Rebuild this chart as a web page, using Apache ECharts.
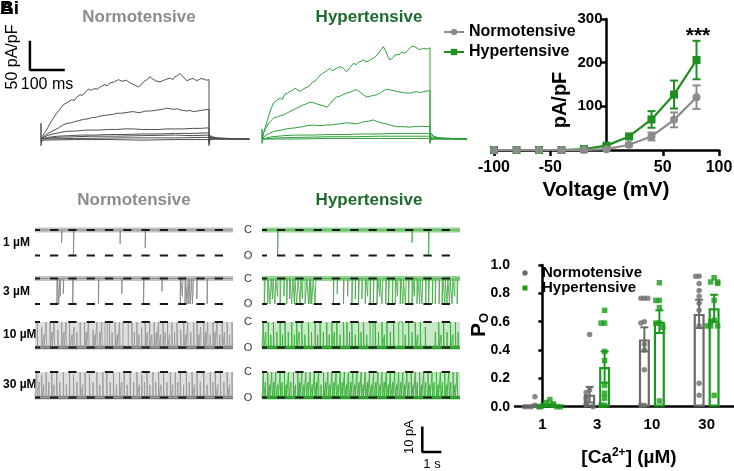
<!DOCTYPE html>
<html><head><meta charset="utf-8">
<script src="https://cdn.jsdelivr.net/npm/echarts@6/dist/echarts.min.js"></script>
<style>html,body{margin:0;padding:0;background:#fff}#c{width:734px;height:471px}</style>
</head><body><div id="c"></div>
<script>
// ---------------- DATA ----------------
// Ai: current-voltage relation
const ivVoltage   = [-100,-80,-60,-40,-20,0,20,40,60,80];
const ivNormo     = [0,0,0,0,0,2,12,31,69,121];
const ivNormoSem  = [1,1,1,1,1,2,4,9,17,27];
const ivHyper     = [0,0,0,0,2,10,31,70,127,206];
const ivHyperSem  = [1,1,1,1,2,3,6,19,32,44];
const ivTicksX    = [-100,-50,50,100];
const ivTicksY    = [100,200,300];

// Bi: open probability
const caConc      = ['1','3','10','30'];
const poNormoMean = [0.005,0.085,0.475,0.655];
const poNormoSem  = [0.008,0.055,0.085,0.10];
const poHyperMean = [0.01,0.28,0.60,0.695];
const poHyperSem  = [0.008,0.11,0.08,0.095];
const poNormoPts  = [[0.07,0.01,0,0,0,0,0],[0.51,0.12,0.10,0.07,0.05,0.02,0.01,0],[0.765,0.765,0.765,0.60,0.59,0.44,0.40,0.26,0.01,0.01],[0.92,0.92,0.87,0.82,0.78,0.73,0.68,0.57,0.165,0.08]];
const poHyperPts  = [[0.05,0.03,0.02,0.01,0.01,0,0,0],[0.68,0.59,0.59,0.39,0.325,0.15,0.095,0.06,0.01,0.01],[0.875,0.75,0.75,0.70,0.59,0.59,0.56,0.04],[0.91,0.88,0.88,0.87,0.75,0.61,0.60,0.57,0.57,0.57,0.08]];

// A: whole-cell current traces [ms, pA/pF]
const wcNormo = [
 [[0,0],[0,28],[0,-12],[3,4],[12,12],[20,20],[27,28],[36,36],[45,45],[55,52],[66,61],[80,66],[91,70],[100,69],[105,74],[116,79],[124,78],[130,83],[141,89],[150,87],[158,90],[168,89],[176,93],[190,97],[198,95],[205,100],[218,102],[230,106],[242,103],[255,105],[262,101],[270,99],[280,96],[290,93],[298,97],[305,102],[315,106],[325,111],[333,107],[340,104],[354,102],[362,104],[370,106],[384,109],[392,106],[398,111],[406,113],[414,117],[420,113],[424,110],[434,104],[445,107],[453,108],[460,105],[468,105],[476,108],[485,107],[492,105],[500,106],[500,-12],[503,6],[510,4],[525,2],[560,1],[620,0]],
 [[0,0],[3,3],[15,8],[30,13],[50,19],[65,25],[77,28],[90,29],[100,31],[114,33],[126,35],[140,36],[150,38],[165,39],[176,41],[190,42],[200,43],[214,44],[226,46],[240,46],[250,47],[262,48],[275,49],[288,47],[300,48],[312,50],[325,50],[338,51],[350,52],[362,53],[374,55],[385,54],[395,53],[404,54],[414,52],[424,51],[433,50],[443,51],[453,49],[465,50],[475,51],[487,52],[500,53],[500,-8],[503,4],[515,2],[540,1],[620,0]],
 [[0,0],[5,3],[18,6],[30,8],[45,10],[60,12],[80,14],[100,14],[120,15],[135,16],[150,16],[175,16],[200,17],[225,17],[250,18],[275,18],[300,17],[325,17],[350,17],[375,18],[400,18],[425,18],[450,19],[475,19],[500,20],[500,-6],[505,3],[520,1],[620,0]],
 [[0,0],[20,3],[50,5],[85,6],[120,7],[160,7],[200,8],[250,8],[300,9],[350,9],[400,10],[450,10],[500,11],[500,-4],[505,2],[530,0],[620,0]],
 [[0,0],[50,3],[100,4],[150,5],[225,5],[300,6],[400,7],[450,6],[500,7],[500,-3],[510,1],[620,0]],
 [[0,0],[100,1],[250,2],[400,2],[500,3],[500,-2],[510,0],[620,0]],
 [[0,0],[0,-5],[10,-2],[100,-1],[200,-1],[300,-2],[400,-1],[500,-1],[500,-4],[520,0],[620,0]]
];
const wcHyper = [
 [[0,0],[0,18],[0,-8],[4,10],[12,25],[19,40],[27,54],[34,64],[44,69],[54,73],[61,71],[68,80],[76,82],[83,85],[91,87],[98,91],[105,88],[113,85],[120,88],[128,91],[136,93],[143,96],[150,101],[158,104],[165,108],[173,114],[180,117],[188,120],[195,123],[202,126],[208,122],[215,124],[224,127],[232,129],[242,126],[252,120],[262,128],[272,135],[280,133],[287,137],[295,139],[302,141],[309,138],[316,139],[324,142],[331,144],[339,148],[346,152],[351,157],[355,160],[361,165],[368,158],[374,148],[381,141],[386,144],[391,146],[396,150],[401,153],[408,151],[416,155],[424,153],[431,156],[436,160],[440,162],[445,165],[450,168],[455,165],[460,163],[466,160],[470,159],[478,161],[485,162],[492,160],[500,163],[500,-8],[503,10],[510,5],[525,2],[560,1],[610,0]],
 [[0,0],[4,10],[12,20],[20,28],[27,33],[34,37],[42,39],[50,40],[57,42],[64,43],[73,46],[83,49],[93,52],[103,55],[113,58],[123,61],[133,63],[143,66],[150,65],[158,64],[165,62],[173,61],[183,59],[193,57],[200,61],[207,66],[214,71],[222,75],[230,76],[237,78],[245,80],[252,82],[260,83],[267,85],[275,87],[282,88],[289,85],[296,82],[304,78],[311,75],[318,76],[326,77],[334,78],[341,79],[349,81],[356,84],[364,87],[371,89],[378,88],[386,87],[394,86],[401,85],[410,84],[420,83],[430,82],[440,82],[448,83],[455,84],[463,84],[470,83],[478,84],[485,85],[492,86],[500,86],[500,-6],[505,4],[520,2],[610,0]],
 [[0,0],[10,6],[22,10],[34,13],[47,15],[60,16],[72,18],[83,19],[100,20],[120,22],[137,24],[153,25],[167,24],[180,24],[190,25],[202,25],[216,26],[230,27],[241,28],[252,29],[267,28],[282,27],[293,29],[305,31],[318,32],[331,34],[340,32],[350,30],[360,28],[371,27],[386,24],[401,22],[413,22],[425,22],[438,21],[450,22],[463,22],[475,23],[488,22],[500,23],[500,-4],[503,10],[512,4],[530,1],[610,0]],
 [[0,0],[30,4],[65,6],[100,7],[150,7],[200,8],[250,8],[300,9],[350,9],[400,10],[450,10],[500,10],[500,-3],[510,1],[610,0]],
 [[0,0],[50,2],[120,3],[200,4],[275,4],[350,5],[425,5],[500,5],[500,-2],[510,0],[610,0]],
 [[0,0],[100,0],[200,1],[350,1],[500,1],[510,0],[610,0]]
];
const wcScaleBar = {pApF: 50, ms: 100};

// B: single-channel recordings, events [time s, duration s, fraction of unitary amplitude]
const scRowLabels = ['1 µM','3 µM','10 µM','30 µM'];
const scClosed = 0, scOpen = -10;       // pA
const scEnd = 10.4;                      // s
const scScaleBar = {pA: 10, s: 1};
const scN1 = [[1.40,0.02,0.5],[2.02,0.03,1],[4.47,0.02,0.55],[5.79,0.02,0.7]];
const scN3 = [[1.15,0.04,1],[1.25,0.05,1],[1.33,0.02,0.7],[1.49,0.02,0.6],[1.98,0.03,1],[3.33,0.03,1],[4.56,0.02,0.6],[5.70,0.03,1],[6.67,0.02,0.5],[7.63,0.03,1],[7.74,0.03,0.7],[7.88,0.04,1],[7.98,0.07,1],[8.08,0.05,1],[8.16,0.08,1],[8.27,0.06,1],[8.50,0.02,0.8],[9.04,0.03,1]];
const scN10 = [[0.12,0.02,1],[0.35,0.02,0.8],[0.47,0.01,0.5],[0.58,0.03,1],[0.79,0.02,1],[0.9,0.01,0.6],[1.0,0.03,1],[1.2,0.02,0.7],[1.40,0.03,1],[1.52,0.01,0.6],[1.63,0.02,1],[1.81,0.04,1],[1.95,0.01,0.5],[2.05,0.02,0.8],[2.2,0.01,0.6],[2.37,0.03,1],[2.6,0.02,1],[2.7,0.01,0.6],[2.81,0.03,1],[3.05,0.02,0.7],[3.15,0.01,0.5],[3.25,0.03,1],[3.4,0.01,0.6],[3.51,0.02,1],[3.68,0.12,1],[3.91,0.02,1],[4.05,0.01,0.6],[4.21,0.03,1],[4.33,0.01,0.5],[4.44,0.02,1],[4.62,0.28,1],[5.09,0.02,1],[5.22,0.01,0.6],[5.35,0.03,1],[5.47,0.01,0.5],[5.6,0.02,0.8],[5.79,0.03,1],[5.9,0.01,0.6],[6.02,0.02,1],[6.14,0.01,0.5],[6.26,0.03,1],[6.38,0.01,0.6],[6.49,0.02,1],[6.6,0.01,0.5],[6.72,0.03,1],[6.84,0.01,0.6],[6.96,0.02,1],[7.07,0.01,0.5],[7.19,0.03,1],[7.33,0.01,0.6],[7.46,0.02,1],[7.65,0.02,0.7],[7.81,0.03,1],[7.92,0.01,0.5],[8.02,0.02,1],[8.18,0.01,0.6],[8.33,0.03,1],[8.51,0.02,1],[8.6,0.01,0.5],[8.7,0.02,0.8],[8.86,0.03,1],[8.96,0.01,0.6],[9.07,0.02,1],[9.2,0.01,0.5],[9.35,0.03,1],[9.45,0.01,0.6],[9.56,0.02,1],[9.7,0.01,0.5],[9.83,0.03,1],[9.95,0.01,0.6],[10.09,0.02,1],[10.22,0.01,0.5],[10.35,0.03,1]];
const scN30 = [[0.09,0.03,1],[0.22,0.01,0.6],[0.35,0.02,0.9],[0.46,0.01,0.5],[0.58,0.03,1],[0.72,0.01,0.6],[0.88,0.02,1],[1.0,0.01,0.5],[1.14,0.03,1],[1.3,0.01,0.6],[1.49,0.02,1],[1.65,0.01,0.5],[1.81,0.03,1],[2.02,0.02,0.9],[2.2,0.01,0.6],[2.37,0.03,1],[2.5,0.01,0.5],[2.63,0.02,1],[2.86,0.03,0.9],[3.05,0.01,0.6],[3.25,0.02,1],[3.4,0.01,0.5],[3.56,0.03,1],[3.77,0.02,1],[3.95,0.01,0.6],[4.12,0.03,1],[4.28,0.01,0.5],[4.44,0.02,1],[4.56,0.01,0.6],[4.68,0.03,1],[4.84,0.01,0.5],[5.0,0.02,1],[5.18,0.01,0.6],[5.35,0.03,1],[5.48,0.01,0.5],[5.61,0.02,0.9],[5.75,0.01,0.6],[5.88,0.03,1],[6.03,0.01,0.5],[6.19,0.02,1],[6.34,0.01,0.6],[6.49,0.03,1],[6.62,0.01,0.5],[6.75,0.02,1],[6.93,0.01,0.6],[7.11,0.03,1],[7.24,0.01,0.5],[7.37,0.02,1],[7.5,0.01,0.6],[7.63,0.03,1],[7.8,0.01,0.5],[7.95,0.02,1],[8.1,0.01,0.6],[8.25,0.03,1],[8.38,0.01,0.5],[8.51,0.02,1],[8.68,0.01,0.6],[8.86,0.03,1],[9.04,0.01,0.5],[9.21,0.02,1],[9.34,0.01,0.6],[9.47,0.03,1],[9.6,0.01,0.5],[9.74,0.02,1],[9.92,0.01,0.6],[10.09,0.03,1],[10.22,0.01,0.5],[10.35,0.02,1]];
const scH1 = [[0.82,0.03,1],[7.88,0.02,0.5],[8.75,0.03,1]];
const scH3 = [[0.12,0.05,1],[0.30,0.03,1],[0.42,0.06,1],[0.55,0.03,0.8],[0.68,0.04,1],[0.82,0.02,0.7],[0.95,0.05,1],[1.15,0.03,0.7],[1.30,0.04,1],[1.45,0.02,0.8],[1.56,0.06,1],[1.70,0.03,1],[1.82,0.08,1],[2.0,0.05,1],[2.12,0.03,0.8],[2.26,0.10,1],[2.44,0.06,1],[2.52,0.04,1],[2.61,0.08,1],[2.79,0.04,1],[3.75,0.03,1],[3.95,0.02,0.6],[4.28,0.03,1],[4.5,0.02,0.7],[4.72,0.04,1],[4.9,0.02,0.8],[5.07,0.04,1],[5.25,0.02,0.8],[5.42,0.05,1],[5.55,0.02,0.7],[5.68,0.03,1],[5.85,0.03,1],[6.04,0.04,1],[6.18,0.02,0.7],[6.30,0.05,1],[6.50,0.03,1],[6.65,0.04,1],[6.85,0.03,1],[7.0,0.05,1],[7.12,0.02,0.7],[7.26,0.04,1],[7.40,0.03,1],[7.53,0.05,1],[7.70,0.03,1],[7.88,0.04,1],[8.0,0.02,0.7],[8.14,0.05,1],[8.28,0.03,1],[8.40,0.04,1],[8.60,0.03,1],[8.75,0.05,1],[8.95,0.03,1],[9.10,0.04,1],[9.30,0.03,1],[9.46,0.05,1],[9.60,0.03,1],[9.72,0.04,1],[9.85,0.03,1],[9.98,0.05,1],[10.12,0.02,0.7],[10.25,0.04,1]];
const scH10 = [[0.07,0.03,1],[0.2,0.01,0.6],[0.33,0.02,1],[0.46,0.01,0.5],[0.6,0.03,1],[0.78,0.01,0.6],[0.95,0.02,1],[1.08,0.01,0.5],[1.21,0.03,1],[1.38,0.01,0.6],[1.56,0.02,1],[1.7,0.01,0.5],[1.82,0.03,1],[1.95,0.01,0.6],[2.09,0.02,1],[2.25,0.01,0.5],[2.44,0.03,1],[2.6,0.01,0.6],[2.79,0.02,1],[2.92,0.01,0.5],[3.05,0.03,1],[3.22,0.01,0.6],[3.40,0.02,1],[3.53,0.01,0.5],[3.67,0.03,1],[3.8,0.01,0.6],[3.93,0.02,1],[4.1,0.01,0.5],[4.28,0.03,1],[4.46,0.02,1],[4.6,0.01,0.6],[4.72,0.03,1],[4.9,0.01,0.5],[5.07,0.02,1],[5.2,0.01,0.6],[5.33,0.03,1],[5.5,0.01,0.5],[5.68,0.15,1],[5.95,0.02,1],[6.12,0.01,0.6],[6.30,0.03,1],[6.43,0.01,0.5],[6.56,0.02,1],[6.74,0.01,0.6],[6.91,0.03,1],[7.18,0.22,1],[7.52,0.01,0.5],[7.70,0.02,1],[7.88,0.01,0.6],[8.05,0.03,1],[8.18,0.01,0.5],[8.32,0.02,1],[8.58,0.02,0.8],[9.10,0.01,0.6],[9.28,0.03,1],[9.41,0.01,0.5],[9.54,0.02,1],[9.72,0.01,0.6],[9.90,0.03,1],[10.03,0.01,0.5],[10.16,0.02,1],[10.3,0.01,0.6]];
const scH30 = [[0.07,0.03,1],[0.18,0.01,0.6],[0.30,0.02,1],[0.40,0.01,0.5],[0.51,0.03,1],[0.62,0.01,0.6],[0.72,0.02,1],[0.84,0.01,0.5],[0.95,0.03,1],[1.06,0.01,0.6],[1.18,0.02,1],[1.28,0.01,0.5],[1.39,0.03,1],[1.52,0.01,0.6],[1.65,0.02,1],[1.76,0.01,0.5],[1.88,0.03,1],[1.98,0.01,0.6],[2.09,0.02,1],[2.2,0.01,0.5],[2.30,0.03,1],[2.42,0.01,0.6],[2.53,0.02,1],[2.64,0.01,0.5],[2.75,0.03,1],[2.86,0.01,0.6],[2.97,0.02,1],[3.1,0.01,0.5],[3.23,0.03,1],[3.35,0.01,0.6],[3.46,0.02,1],[3.56,0.01,0.5],[3.67,0.03,1],[3.78,0.01,0.6],[3.89,0.02,1],[4.0,0.01,0.5],[4.11,0.03,1],[4.22,0.01,0.6],[4.33,0.02,1],[4.44,0.01,0.5],[4.54,0.03,1],[4.66,0.01,0.6],[4.77,0.02,1],[4.88,0.01,0.5],[4.98,0.03,1],[5.1,0.01,0.6],[5.21,0.02,1],[5.32,0.01,0.5],[5.42,0.03,1],[5.54,0.01,0.6],[5.65,0.02,1],[5.76,0.01,0.5],[5.86,0.03,1],[5.98,0.01,0.6],[6.09,0.02,1],[6.2,0.01,0.5],[6.30,0.03,1],[6.42,0.01,0.6],[6.53,0.02,1],[6.64,0.01,0.5],[6.74,0.03,1],[6.86,0.01,0.6],[6.97,0.02,1],[7.08,0.01,0.5],[7.18,0.03,1],[7.3,0.01,0.6],[7.40,0.02,1],[7.5,0.01,0.5],[7.61,0.03,1],[7.72,0.01,0.6],[7.84,0.02,1],[7.94,0.01,0.5],[8.05,0.03,1],[8.16,0.01,0.6],[8.28,0.02,1],[8.38,0.01,0.5],[8.49,0.03,1],[8.6,0.01,0.6],[8.72,0.02,1],[8.82,0.01,0.5],[8.93,0.03,1],[9.04,0.01,0.6],[9.16,0.02,1],[9.26,0.01,0.5],[9.37,0.03,1],[9.48,0.01,0.6],[9.60,0.02,1],[9.7,0.01,0.5],[9.81,0.03,1],[9.92,0.01,0.6],[10.04,0.02,1],[10.14,0.01,0.5],[10.25,0.03,1]];
const scNormo = [scN1, scN3, scN10, scN30];
const scHyper = [scH1, scH3, scH10, scH30];

// ---------------- STYLE / LAYOUT ----------------
const FONT = '"Liberation Sans", Arial, Helvetica, sans-serif';
const C_GRAY = '#8c8c8c', C_GREEN = '#1f8f22', C_DKGREEN = '#1e6b2e';
const BAR_GRAY = '#6b6b6b', BAR_GREEN = '#1a9a1a';
const scRowY = [230, 278.5, 322, 372];   // pixel y of closed level per row
const scPxPerPA = 2.55, scLeftN = 35, scLeftH = 262, scWidth = 198;
const wcPxPerMs = 0.336, wcPxPerPApF = 0.56, wcBaseY = 139;
const barBandPx = 219 / 4;
const ivGridLeft = 494, ivGridWidth = 225;

const grids = [], xAxes = [], yAxes = [], series = [];
const hiddenAxis = (extra) => Object.assign({show:false, splitLine:{show:false}}, extra);

// grid 0: IV
grids.push({left:ivGridLeft, top:19, width:ivGridWidth, height:131});
const axLine = {lineStyle:{color:'#000', width:2.5}};
xAxes.push({gridIndex:0, type:'value', min:-100, max:100, interval:50,
  axisLine:Object.assign({onZero:false}, axLine),
  axisTick:{show:true, length:6, lineStyle:{color:'#000', width:2.5}, customValues:ivTicksX},
  axisLabel:{customValues:ivTicksX, fontFamily:FONT, fontWeight:'bold', fontSize:16, color:'#000', margin:10},
  splitLine:{show:false}});
// y axis drawn at V = 0 (middle of grid) via offset
yAxes.push({gridIndex:0, type:'value', min:0, max:300, interval:100, position:'left',
  offset: -ivGridWidth * (0 - (-100)) / 200,
  axisLine:Object.assign({show:true, onZero:false}, axLine),
  axisTick:{show:true, length:6, lineStyle:{color:'#000', width:2.5}, customValues:ivTicksY},
  axisLabel:{customValues:ivTicksY, fontFamily:FONT, fontWeight:'bold', fontSize:15, color:'#000', margin:4},
  splitLine:{show:false}});

// grid 1: Po bar chart
grids.push({left:515, top:265, width:219, height:141.7});
xAxes.push({gridIndex:1, type:'category', data:caConc,
  axisLine:axLine, axisTick:{alignWithLabel:true, length:6, lineStyle:{color:'#000', width:2.5}},
  axisLabel:{fontFamily:FONT, fontWeight:'bold', fontSize:15, color:'#000', margin:11}});
xAxes.push({gridIndex:1, type:'value', min:-0.5, max:3.5, show:false, splitLine:{show:false}});
yAxes.push({gridIndex:1, type:'value', min:0, max:1, interval:0.2,
  axisLine:Object.assign({show:true}, axLine),
  axisTick:{show:true, length:4, lineStyle:{color:'#000', width:2.5}},
  axisLabel:{formatter:v=>v.toFixed(1), fontFamily:FONT, fontWeight:'bold', fontSize:14, color:'#000', margin:5},
  splitLine:{show:false}});

// grids 2,3: whole-cell traces
const wcMin = -35, wcMax = 620, wcYMin = -20, wcYMax = 180;
[41, 262].forEach(x0 => {
  grids.push({left:x0 + wcMin*wcPxPerMs, top:wcBaseY - wcYMax*wcPxPerPApF,
    width:(wcMax-wcMin)*wcPxPerMs, height:(wcYMax-wcYMin)*wcPxPerPApF});
  const g = grids.length-1;
  xAxes.push(hiddenAxis({gridIndex:g, type:'value', min:wcMin, max:wcMax}));
  yAxes.push(hiddenAxis({gridIndex:g, type:'value', min:wcYMin, max:wcYMax}));
});
// grids 4..11: single channel rows
const scYMin = -14, scYMax = 4;
[scLeftN, scLeftH].forEach(x0 => {
  scRowY.forEach(yC => {
    grids.push({left:x0, top:yC - scYMax*scPxPerPA, width:scWidth, height:(scYMax-scYMin)*scPxPerPA});
    const g = grids.length-1;
    xAxes.push(hiddenAxis({gridIndex:g, type:'value', min:0, max:scEnd}));
    yAxes.push(hiddenAxis({gridIndex:g, type:'value', min:scYMin, max:scYMax}));
  });
});
grids.forEach(g => { g.outerBoundsMode = 'none'; g.containLabel = false; });

// ---- IV series ----
function errRender(color, cap, offPx){
  return function(params, api){
    const x = api.value(0), y = api.value(1), e = api.value(2);
    const t = api.coord([x, y+e]), b = api.coord([x, Math.max(y-e, 0)]);
    const o = offPx || 0, st = {stroke:color, lineWidth:2};
    return {type:'group', children:[
      {type:'line', shape:{x1:t[0]+o, y1:t[1], x2:b[0]+o, y2:b[1]}, style:st},
      {type:'line', shape:{x1:t[0]+o-cap, y1:t[1], x2:t[0]+o+cap, y2:t[1]}, style:st},
      {type:'line', shape:{x1:b[0]+o-cap, y1:b[1], x2:b[0]+o+cap, y2:b[1]}, style:st}
    ]};
  };
}
series.push({type:'custom', xAxisIndex:0, yAxisIndex:0, renderItem:errRender(C_GREEN, 4),
  data:ivVoltage.map((v,i)=>[v, ivHyper[i], ivHyperSem[i]]), z:3, silent:true});
series.push({type:'custom', xAxisIndex:0, yAxisIndex:0, renderItem:errRender(C_GRAY, 4),
  data:ivVoltage.map((v,i)=>[v, ivNormo[i], ivNormoSem[i]]), z:3, silent:true});
series.push({name:'Hypertensive', type:'line', xAxisIndex:0, yAxisIndex:0,
  data:ivVoltage.map((v,i)=>[v, ivHyper[i]]), symbol:'rect', symbolSize:8,
  itemStyle:{color:C_GREEN}, lineStyle:{color:C_GREEN, width:2.2}, z:4});
series.push({name:'Normotensive', type:'line', xAxisIndex:0, yAxisIndex:0,
  data:ivVoltage.map((v,i)=>[v, ivNormo[i]]), symbol:'circle', symbolSize:8,
  itemStyle:{color:C_GRAY}, lineStyle:{color:C_GRAY, width:2.2}, z:5});

// ---- Po bars ----
series.push({type:'bar', xAxisIndex:1, yAxisIndex:1, data:poNormoMean, barWidth:11, barGap:'36%',
  itemStyle:{color:'rgba(255,255,255,0)', borderColor:BAR_GRAY, borderWidth:2.2}, z:2});
series.push({type:'bar', xAxisIndex:1, yAxisIndex:1, data:poHyperMean, barWidth:11, barGap:'36%',
  itemStyle:{color:'rgba(255,255,255,0)', borderColor:BAR_GREEN, borderWidth:2.2}, z:2});
series.push({type:'custom', xAxisIndex:1, yAxisIndex:1, renderItem:errRender(BAR_GRAY, 4, -7.5),
  data:poNormoMean.map((m,i)=>[i, m, poNormoSem[i]]), z:3, silent:true});
series.push({type:'custom', xAxisIndex:1, yAxisIndex:1, renderItem:errRender(BAR_GREEN, 4, 7.5),
  data:poHyperMean.map((m,i)=>[i, m, poHyperSem[i]]), z:3, silent:true});
function dotData(pts, basePx){
  const out = [];
  const jit = [0,-3.5,3.5,-7,7,-10.5,10.5,-14,14];
  pts.forEach((vals, i) => {
    const placed = [];
    vals.forEach(v => {
      const n = placed.filter(p => Math.abs(p - v) < 0.035).length;
      placed.push(v);
      out.push([i + (basePx + jit[n % jit.length]) / barBandPx, v]);
    });
  });
  return out;
}
series.push({type:'scatter', xAxisIndex:2, yAxisIndex:1, data:dotData(poNormoPts, -7.5),
  symbol:'circle', symbolSize:5.5, itemStyle:{color:BAR_GRAY}, z:4});
series.push({type:'scatter', xAxisIndex:2, yAxisIndex:1, data:dotData(poHyperPts, 7.5),
  symbol:'rect', symbolSize:5.5, itemStyle:{color:BAR_GREEN}, z:4});

// ---- whole-cell traces ----
wcNormo.forEach(tr => series.push({type:'line', xAxisIndex:3, yAxisIndex:2, data:tr, symbol:'none',
  lineStyle:{color:'#505050', width:1}, silent:true}));
wcHyper.forEach(tr => series.push({type:'line', xAxisIndex:4, yAxisIndex:3, data:tr, symbol:'none',
  lineStyle:{color:'#2f9e3a', width:1}, silent:true}));
// scale bar (50 pA/pF, 100 ms) in normotensive trace axes
const sbT = -33, sbV = 123;
series.push({type:'line', xAxisIndex:3, yAxisIndex:2, symbol:'none', clip:false, silent:true,
  data:[[sbT, sbV + wcScaleBar.pApF],[sbT, sbV],[sbT + wcScaleBar.ms, sbV]],
  lineStyle:{color:'#000', width:2.5, cap:'square'}});

// ---- single channel ----
function scPath(ev, base, other){
  const p = [[0, base]];
  ev.forEach(([t,d,f]) => { const l = base + (other-base)*f; p.push([t,base],[t,l],[t+d,l],[t+d,base]); });
  p.push([scEnd, base]);
  return p;
}
[[scNormo, 0], [scHyper, 4]].forEach(([set, off]) => {
  const isN = off === 0;
  set.forEach((ev, r) => {
    const g = 4 + off + r, xi = g + 1, yi = g;
    const dense = r >= 2;
    const base = dense ? scOpen : scClosed, other = dense ? scClosed : scOpen;
    const band = {type:'line', xAxisIndex:xi, yAxisIndex:yi, symbol:'none', silent:true, z:2,
      data:[[0, base],[scEnd, base]],
      lineStyle:{width: dense ? 3.5 : 5, color: isN ? (dense ? '#7a7a7a' : '#c2c2c2') : (dense ? '#2b9a2b' : '#93d493')}};
    if (dense) band.markArea = {silent:true, itemStyle:{color: isN ? 'rgba(170,170,170,0.38)' : 'rgba(90,190,90,0.33)'},
      data:[[{coord:[0, scOpen]},{coord:[scEnd, scClosed]}]]};
    series.push(band);
    series.push({type:'line', xAxisIndex:xi, yAxisIndex:yi, symbol:'none', silent:true, z:3,
      data:scPath(ev, base, other),
      lineStyle:{width:0.9, color: isN ? (dense ? '#9a9a9a' : '#8a8a8a') : (dense ? '#3fae3f' : '#4caf4c')}});
    [scClosed, scOpen].forEach(lv => series.push({type:'line', xAxisIndex:xi, yAxisIndex:yi, symbol:'none', silent:true, z:6,
      data:[[0, lv],[scEnd, lv]], lineStyle:{color:'#1a1a1a', width:2, type:[8.3,10], dashOffset:3.3}}));
  });
});
// scale bar (10 pA, 1 s) under hypertensive 30 µM row
const sbS = 8.42, sbP = -31.4;
series.push({type:'line', xAxisIndex:12, yAxisIndex:11, symbol:'none', clip:false, silent:true, z:6,
  data:[[sbS, sbP + scScaleBar.pA],[sbS, sbP],[sbS + scScaleBar.s, sbP]],
  lineStyle:{color:'#000', width:2.5}});

// ---------------- GRAPHIC TEXT ----------------
const T = (x, y, text, font, fill, align, extra) => Object.assign({type:'text', x, y, silent:true,
  style:{text, font, fill: fill || '#000', textAlign: align || 'center', textVerticalAlign:'middle'}}, extra || {});
const graphic = [
  T(0, 9, 'B', 'bold 19px ' + FONT, '#000', 'left'),
  T(0, 9, 'Ai', 'bold 19px ' + FONT, '#000', 'left'),
  T(139, 17, 'Normotensive', 'bold 17px ' + FONT, C_GRAY),
  T(369, 17, 'Hypertensive', 'bold 17px ' + FONT, C_DKGREEN),
  T(134, 200, 'Normotensive', 'bold 17px ' + FONT, C_GRAY),
  T(369, 200, 'Hypertensive', 'bold 17px ' + FONT, C_DKGREEN),
  T(12.5, 57, '50 pA/pF', '16px ' + FONT, '#000', 'center', {rotation:Math.PI/2}),
  T(47, 85, '100 ms', '16px ' + FONT, '#000'),
  T(698, 36, '***', 'bold 21px ' + FONT, '#000'),
  T(606, 190, 'Voltage (mV)', 'bold 21px ' + FONT, '#000'),
  T(560, 100, 'pA/pF', 'bold 20px ' + FONT, '#000', 'center', {rotation:Math.PI/2}),
  T(409, 437, '10 pA', '13px ' + FONT, '#000', 'center', {rotation:Math.PI/2}),
  T(432, 464, '1 s', '13px ' + FONT, '#000'),
  {type:'circle', shape:{cx:525, cy:273, r:2.7}, style:{fill:BAR_GRAY}, silent:true},
  {type:'rect', shape:{x:522.5, y:285.5, width:5, height:5}, style:{fill:BAR_GREEN}, silent:true},
  T(542, 273, 'Normotensive', 'bold 15px ' + FONT, '#000', 'left'),
  T(542, 288, 'Hypertensive', 'bold 15px ' + FONT, '#000', 'left'),
  {type:'text', x:629, y:458, silent:true, style:{text:'{n|[Ca}{s|2+}{n|] (µM)}', textAlign:'center', textVerticalAlign:'middle',
    rich:{n:{font:'bold 19px ' + FONT, fill:'#000', lineHeight:22}, s:{font:'bold 12px ' + FONT, fill:'#000', verticalAlign:'top', lineHeight:22}}}},
  {type:'text', x:479, y:325, rotation:Math.PI/2, silent:true, style:{text:'{p|P}{s|O}', textAlign:'center', textVerticalAlign:'middle',
    rich:{p:{font:'bold 21px ' + FONT, fill:'#000', lineHeight:24}, s:{font:'bold 13px ' + FONT, fill:'#000', verticalAlign:'bottom', lineHeight:24, padding:[6,0,0,0]}}}}
];
scRowLabels.forEach((lab, r) => {
  graphic.push(T(3, scRowY[r] + 13, lab, 'bold 12px ' + FONT, '#000', 'left'));
  graphic.push(T(248, scRowY[r], 'C', '11px ' + FONT, '#333'));
  graphic.push(T(248, scRowY[r] + 10*scPxPerPA, 'O', '11px ' + FONT, '#333'));
});

const chart = echarts.init(document.getElementById('c'));
chart.setOption({
  animation:false, backgroundColor:'#fff',
  textStyle:{fontFamily:FONT},
  grid:grids, xAxis:xAxes, yAxis:yAxes, series,
  legend:{data:['Normotensive','Hypertensive'], orient:'vertical', left:438, top:19, padding:5,
    itemWidth:20, itemHeight:8, itemGap:4, selectedMode:false,
    textStyle:{fontFamily:FONT, fontWeight:'bold', fontSize:16, color:'#000'}},
  graphic
});
</script></body></html>
